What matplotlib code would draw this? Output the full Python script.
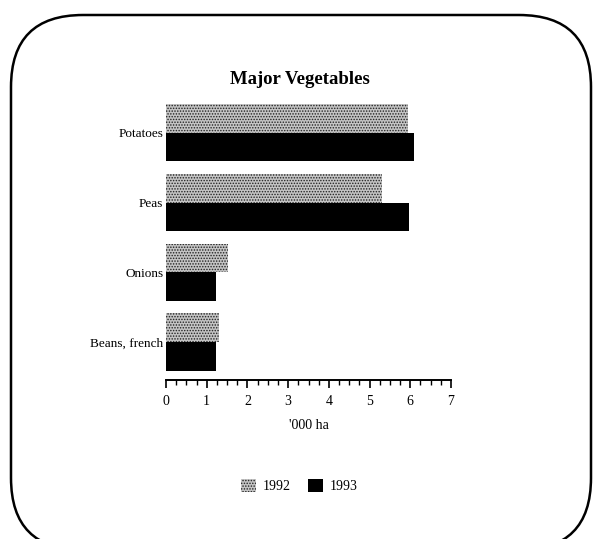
import matplotlib
matplotlib.use("Agg")
import matplotlib.pyplot as plt
import numpy as np
from matplotlib.patches import FancyBboxPatch
from matplotlib.ticker import MultipleLocator

plt.rcParams['font.family'] = ['Liberation Serif', 'DejaVu Serif']
plt.rcParams['hatch.linewidth'] = 0.7

categories = ["Potatoes", "Peas", "Onions", "Beans, french"]
values_1992 = [5.95, 5.3, 1.52, 1.31]
values_1993 = [6.1, 5.97, 1.22, 1.22]
series_labels = ["1992", "1993"]

W, H = 599, 539
fig = plt.figure(figsize=(W / 100, H / 100), dpi=100)

# background border (pixel coordinates, y upwards)
bg = fig.add_axes([0, 0, 1, 1])
bg.set_xlim(0, W)
bg.set_ylim(0, H)
bg.axis('off')
left_px, top_px, right_px, bottom_px = 11, 15, 591, 550
bg.add_patch(FancyBboxPatch((left_px, H - bottom_px), right_px - left_px, bottom_px - top_px,
                            boxstyle="round,pad=0,rounding_size=72",
                            fill=False, edgecolor='black', linewidth=1.8, clip_on=False))

ax = fig.add_axes([166 / W, 1 - 380 / H, (451 - 166) / W, (380 - 100) / H])
pos = np.arange(len(categories))[::-1].astype(float)
bh = 0.41
ax.barh(pos + bh / 2, values_1992, height=bh, color='#c4c4c4', hatch='......',
        edgecolor='#222222', linewidth=0, label=series_labels[0])
ax.barh(pos - bh / 2, values_1993, height=bh, color='black', linewidth=0,
        label=series_labels[1])

ax.set_xlim(0, 7)
ax.set_ylim(-0.545, 3.47)
ax.set_yticks(pos)
ax.set_yticklabels(categories, fontsize=9.5)
ax.tick_params(axis='y', length=0, pad=2)
ax.xaxis.set_major_locator(MultipleLocator(1))
ax.xaxis.set_minor_locator(MultipleLocator(0.25))
ax.tick_params(axis='x', which='major', length=6, width=1.2, direction='out', labelsize=10, pad=5)
ax.tick_params(axis='x', which='minor', length=3.5, width=1.0, direction='out')
for s in ['top', 'right', 'left']:
    ax.spines[s].set_visible(False)
ax.spines['bottom'].set_linewidth(1.4)
ax.set_xlabel("'000 ha", fontsize=10, labelpad=8)

fig.text(0.5, 1 - 80 / H, "Major Vegetables", ha='center', va='center',
         fontsize=13.5, fontweight='bold')

fig.legend(loc='center', bbox_to_anchor=(0.5, 1 - 486 / H), ncol=2, frameon=False,
           fontsize=10, handlelength=1.1, handleheight=1.1, columnspacing=1.2,
           handletextpad=0.5)

fig.savefig("out.png", dpi=100)
